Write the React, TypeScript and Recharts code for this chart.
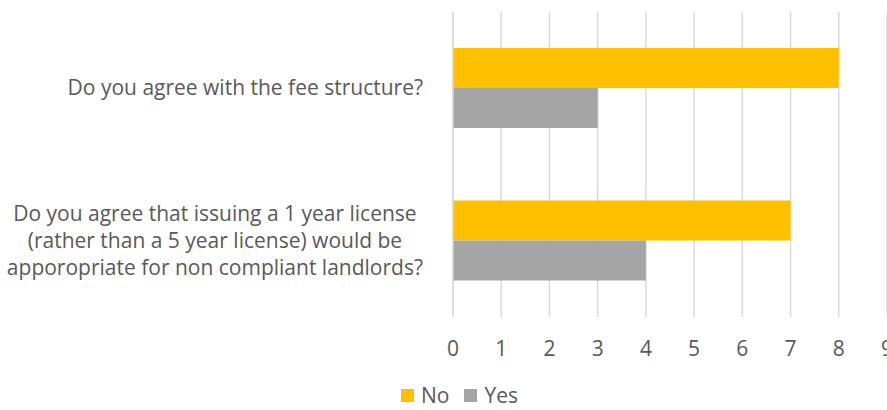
import { BarChart, Bar, XAxis, YAxis, CartesianGrid, Legend } from 'recharts'

const questions = [
  ['Do you agree with the fee structure?'],
  ['Do you agree that issuing a 1 year license', '(rather than a 5 year license) would be', 'apporopriate for non compliant landlords?'],
]
const noValues = [8, 7]
const yesValues = [3, 4]
const xTicks = [0, 1, 2, 3, 4, 5, 6, 7, 8, 9]

const data = questions.map((q, i) => ({
  name: q.join(' '),
  No: noValues[i],
  Yes: yesValues[i],
}))

const FONT = '"Open Sans", sans-serif'
const TEXT = '#595959'
const SIZE = 21

// measure text so the lines can be centred inside a right-aligned block (Excel style)
let ctx: CanvasRenderingContext2D | null = null
function textWidth(s: string) {
  if (!ctx) ctx = document.createElement('canvas').getContext('2d')
  if (!ctx) return s.length * 10
  ctx.font = `${SIZE}px "Open Sans"`
  return ctx.measureText(s).width
}

function QuestionTick({ y, index }: any) {
  const lines = questions[index] || []
  const lineH = 27
  const right = 423
  const w = Math.max(...lines.map(textWidth))
  const cx = right - w / 2
  const start = y - ((lines.length - 1) * lineH) / 2
  return (
    <g>
      {lines.map((l, i) => (
        <text
          key={i}
          x={cx}
          y={start + i * lineH}
          dy={7}
          textAnchor="middle"
          fill={TEXT}
          fontSize={SIZE}
          fontFamily={FONT}
        >
          {l}
        </text>
      ))}
    </g>
  )
}

function SimpleLegend() {
  const items = [
    { label: 'No', color: '#FFC000' },
    { label: 'Yes', color: '#A5A5A5' },
  ]
  return (
    <div style={{ height: 30, paddingLeft: 32, boxSizing: 'border-box', display: 'flex', justifyContent: 'center', alignItems: 'center', gap: 15, fontFamily: FONT, fontSize: SIZE, lineHeight: '22px', color: TEXT }}>
      {items.map(it => (
        <span key={it.label} style={{ display: 'flex', alignItems: 'center', gap: 7 }}>
          <span style={{ width: 13, height: 13, background: it.color, display: 'inline-block' }} />
          {it.label}
        </span>
      ))}
    </div>
  )
}

export default function App() {
  return (
    <div style={{ width: 887, height: 410, background: '#fff' }}>
      <style>{`body{margin:0}`}</style>
      <BarChart
        width={887}
        height={410}
        data={data}
        layout="vertical"
        margin={{ top: 12, right: 0, left: 0, bottom: 0 }}
        barCategoryGap={36}
        barGap={0}
      >
        <CartesianGrid horizontal={false} stroke="#D9D9D9" strokeWidth={1.5} />
        <XAxis
          type="number"
          domain={[0, 9]}
          ticks={xTicks}
          axisLine={false}
          tickLine={false}
          height={63}
          tick={{ fill: TEXT, fontSize: SIZE, fontFamily: FONT }}
          dy={16}
          interval={0}
        />
        <YAxis
          type="category"
          dataKey="name"
          width={453}
          axisLine={{ stroke: '#D9D9D9', strokeWidth: 1.5 }}
          tickLine={false}
          tick={<QuestionTick />}
          interval={0}
        />
        <Legend verticalAlign="bottom" content={<SimpleLegend />} />
        <Bar dataKey="No" fill="#FFC000" isAnimationActive={false} />
        <Bar dataKey="Yes" fill="#A5A5A5" isAnimationActive={false} />
      </BarChart>
    </div>
  )
}
